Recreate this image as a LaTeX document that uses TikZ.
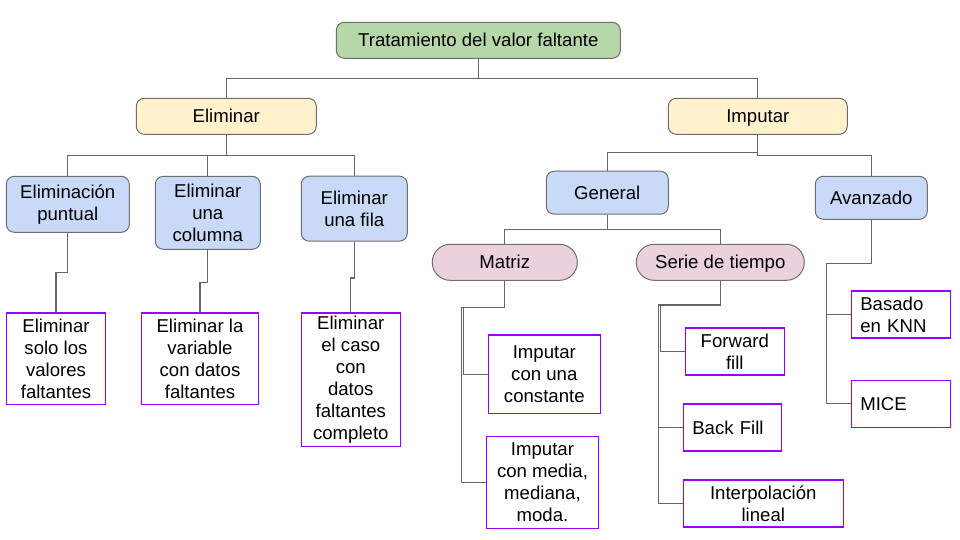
\documentclass[tikz,border=0pt]{standalone}
\usepackage{fontspec}
\setmainfont{Liberation Sans}

\definecolor{rootgreen}{HTML}{B6D7A8}
\definecolor{mainyellow}{HTML}{FFF2CC}
\definecolor{subblue}{HTML}{C9DAF8}
\definecolor{pillpink}{HTML}{EAD1DC}
\definecolor{leafpurple}{HTML}{9900FF}
\definecolor{boxgray}{HTML}{6E6E6E}
\definecolor{linkgray}{HTML}{666666}

\begin{document}
\begin{tikzpicture}[x=0.5pt,y=-0.5pt,
	font=\fontsize{9.3}{11}\selectfont,
	base/.style={draw=boxgray, line width=0.5pt, rounded corners=4pt, align=center, inner sep=1pt},
	oneline/.style={text height=6.7pt, text depth=0pt},
	rootbox/.style={base, oneline, fill=rootgreen},
	mainbox/.style={base, oneline, fill=mainyellow},
	subbox/.style={base, fill=subblue},
	pillbox/.style={base, oneline, fill=pillpink, rounded corners=8.9pt},
	leafbox/.style={draw=leafpurple, line width=0.8pt, fill=white, align=center, inner sep=1pt},
	leafleft/.style={leafbox, align=left, inner xsep=4.5pt},
	link/.style={draw=linkgray, line width=0.6pt}]
	\path[use as bounding box, fill=white] (0,0) rectangle (960,540);

	% top levels
	\node[rootbox, minimum width=142pt, minimum height=18pt] (root) at (478.3,40.3) {Tratamiento del valor faltante};
	\node[mainbox, minimum width=90pt, minimum height=18pt] (elim) at (226.3,116.3) {Eliminar};
	\node[mainbox, minimum width=89.5pt, minimum height=18pt] (imput) at (757.8,116.3) {Imputar};

	\node[subbox, minimum width=61.5pt, minimum height=28pt] (punt) at (67.8,204.3) {Eliminación\\puntual};
	\node[subbox, minimum width=52.5pt, minimum height=36.5pt] (col) at (207.8,212.8) {Eliminar\\una\\columna};
	\node[subbox, minimum width=53pt, minimum height=32.5pt] (fila) at (354.3,208.7) {Eliminar\\una fila};
	\node[subbox, oneline, minimum width=61pt, minimum height=21.5pt] (gen) at (607.3,192.7) {General};
	\node[subbox, oneline, minimum width=56pt, minimum height=21.5pt] (avz) at (871.3,197.8) {Avanzado};

	\node[pillbox, minimum width=72.5pt, minimum height=18pt] (matriz) at (504.8,262.3) {Matriz};
	\node[pillbox, minimum width=84pt, minimum height=18pt] (serie) at (720.3,262.3) {Serie de tiempo};

	% leaves
	\node[leafbox, minimum width=49.5pt, minimum height=45.5pt] (hSolo) at (56,358.8) {Eliminar\\solo los\\valores\\faltantes};
	\node[leafbox, minimum width=58.5pt, minimum height=45.5pt] (hVar) at (200,358.8) {Eliminar la\\variable\\con datos\\faltantes};
	\node[leafbox, minimum width=49.5pt, minimum height=66.5pt] (hCaso) at (350.8,379.8) {Eliminar\\el caso\\con\\datos\\faltantes\\completo};
	\node[leafbox, minimum width=56pt, minimum height=39pt] (hConst) at (544.3,374.3) {Imputar\\con una\\constante};
	\node[leafbox, minimum width=56pt, minimum height=46pt] (hMedia) at (542.5,482.3) {Imputar\\con media,\\mediana,\\moda.};
	\node[leafbox, minimum width=49.5pt, minimum height=23.5pt] (hFwd) at (734.8,351.7) {Forward\\fill};
	\node[leafleft, oneline, text width=40pt, minimum height=23.5pt] (hBack) at (732.3,427.7) {Back Fill};
	\node[leafbox, minimum width=80pt, minimum height=23.5pt] (hInterp) at (763.3,503.7) {Interpolación\\lineal};
	\node[leafleft, text width=40.5pt, minimum height=23.5pt] (hKnn) at (900.8,314.7) {Basado\\en KNN};
	\node[leafleft, oneline, text width=40.5pt, minimum height=23.5pt] (hMice) at (900.8,403.8) {MICE};

	% connectors
	\draw[link] (root.south) -- ++(0,20) -| (elim.north);
	\draw[link] (root.south) -- ++(0,20) -| (imput.north);
	\draw[link] (elim.south) -- ++(0,20.7) -| (punt.north);
	\draw[link] (elim.south) -- ++(0,20.7) -| (col.north);
	\draw[link] (elim.south) -- ++(0,20.7) -| (fila.north);
	\draw[link] (imput.south) -- ++(0,18) -| (gen.north);
	\draw[link] (imput.south) -- ++(0,20.7) -| (avz.north);
	\draw[link] (gen.south) -- ++(0,15) -| (matriz.north);
	\draw[link] (gen.south) -- ++(0,15) -| (serie.north);

	\draw[link] (punt.south) -- ++(0,40) -| (hSolo.north);
	\draw[link] (col.south) -- ++(0,32.4) -| (hVar.north);
	\draw[link] (fila.south) -- ++(0,36.3) -| (hCaso.north);

	\coordinate (mjogA) at (463.3,307.7);
	\coordinate (mjogB) at (461.3,307.7);
	\draw[link] (matriz.south) |- (mjogA) |- (hConst.west);
	\draw[link] (matriz.south) |- (mjogB) |- (hMedia.west);

	\coordinate (sjogA) at (660.7,305);
	\coordinate (sjogB) at (658.3,305);
	\draw[link] (serie.south) |- (sjogA) |- (hFwd.west);
	\draw[link] (serie.south) |- (sjogB) |- (hBack.west);
	\draw[link] (serie.south) |- (sjogB) |- (hInterp.west);

	\coordinate (ajog) at (826.7,263.3);
	\draw[link] (avz.south) |- (ajog) |- (hKnn.west);
	\draw[link] (avz.south) |- (ajog) |- (hMice.west);
\end{tikzpicture}
\end{document}
